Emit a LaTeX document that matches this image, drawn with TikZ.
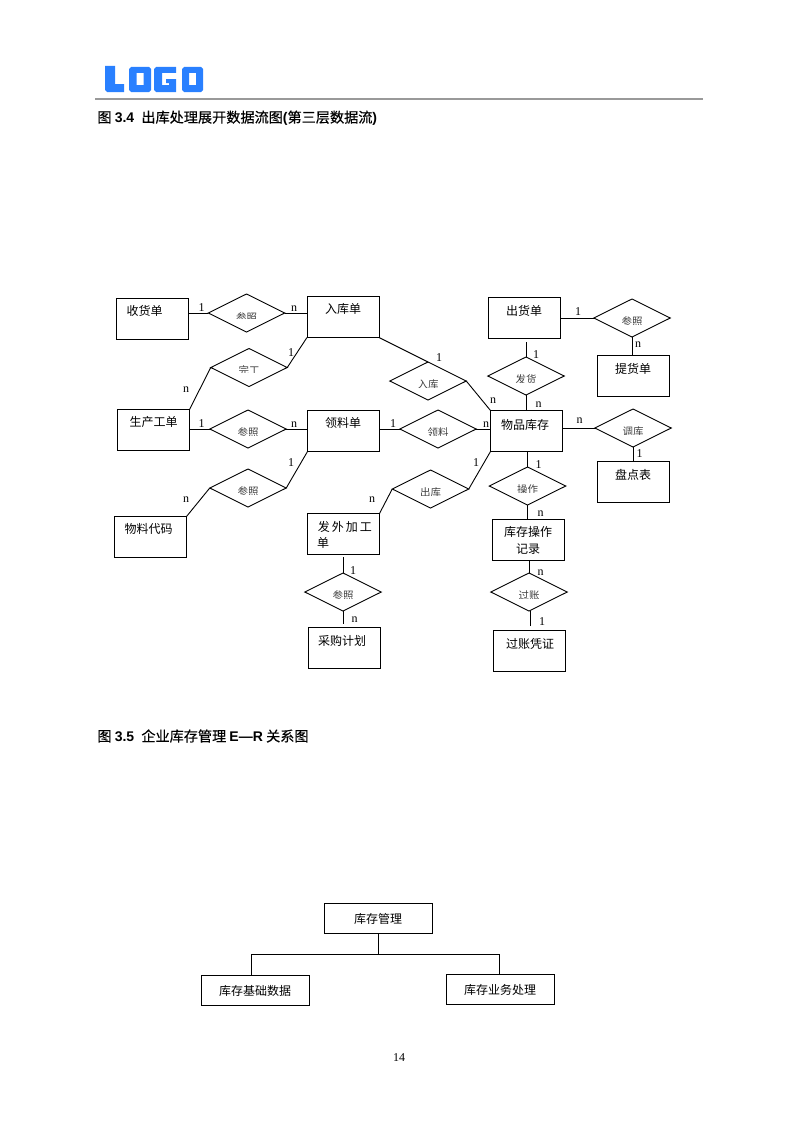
\documentclass[tikz,border=0pt]{standalone}
\usepackage{fontspec}
\usepackage{tikz}
\usetikzlibrary{shapes.geometric}
\setmainfont{Liberation Serif}
\newfontfamily\cjk{Noto Sans CJK SC}
\newfontfamily\cjkhead[FakeBold=0.4]{Noto Sans CJK SC}
\newfontfamily\headfont{Liberation Sans}
\definecolor{logoblue}{RGB}{41,128,255}
\newcommand\hd[1]{{\headfont\bfseries\fontsize{14}{16}\selectfont #1}}
\tikzset{
 entbox/.style={draw,minimum width=72pt,minimum height=41pt,inner sep=0pt,outer sep=0pt},
 topbox/.style={draw,minimum width=108.5pt,minimum height=30.5pt,inner sep=0pt,outer sep=0pt},
 rel/.style={draw,diamond,aspect=2,minimum width=76.5pt,minimum height=38pt,inner sep=0pt,outer sep=0pt},
 txt/.style={font=\cjk\fontsize{12}{17}\selectfont,inner sep=0pt,align=center},
 reltxt/.style={font=\cjk\fontsize{10.5}{11}\selectfont,inner sep=0pt,text=black!75},
 card/.style={font=\fontsize{12}{14}\selectfont,inner sep=0pt,yshift=-1.5pt},
 head/.style={font=\cjkhead\fontsize{14.15}{16}\selectfont,anchor=west,inner sep=0pt}
}
\begin{document}
\begin{tikzpicture}[x=1pt,y=-1pt,line width=0.9pt]
\useasboundingbox (0,0) rectangle (800,1132);
% logo
\fill[logoblue,even odd rule]
 (105,66)--(115,66)--(115,84)--(124,84)--(124,92)--(107,92)--(105,90)--cycle
 (131,67)--(149,67)--(151,69)--(151,90)--(149,92)--(131,92)--(129,90)--(129,69)--cycle
 (136.5,73)--(136.5,85)--(143.5,85)--(143.5,73)--cycle
 (156,67)--(176,67)--(176,73)--(162,73)--(162,85)--(169,85)--(169,83)--(166,83)--(166,79)--(176,79)--(176,92)--(156,92)--(154,90)--(154,69)--cycle
 (184,67)--(201,67)--(203,69)--(203,90)--(201,92)--(184,92)--(182,90)--(182,69)--cycle
 (189,73)--(189,85)--(196,85)--(196,73)--cycle;
\draw[black!40,line width=1.6pt] (95,99)--(703,99);
\node (head1) [head] at (97,118) {图 \hd{3.4}\hspace{4pt} 出库处理展开数据流图\hd{(}第三层数据流\hd{)}};
\node (head2) [head] at (97,736) {图 \hd{3.5}\hspace{4pt} 企业库存管理 \hd{E—R} 关系图};
% boxes
\foreach\n/\x/\y/\tx/\ty/\t in {
 shouhuo/152.5/318.5/144.5/311/收货单,
 ruku/343/317/343/309/入库单,
 gongdan/153.5/430/153.5/422/生产工单,
 lingliao/343.5/431/343/423/领料单,
 wuliao/150.5/537/148.5/529/物料代码,
 caigou/344/648/342/641/采购计划,
 chuhuo/524.5/318/524/311/出货单,
 tihuo/633.5/376/633/369/提货单,
 wupin/526.5/431/525/425/物品库存,
 pandian/633.5/482/633/475/盘点表,
 pingzheng/529.5/651/530/644/过账凭证}
 {\node (\n) [entbox] at (\x,\y) {};
  \node (\n txt) [txt] at (\tx,\ty) {\t};}
\node (waifa) [entbox] at (343.5,534) {};
\node (waifatxt) [txt,anchor=west] at (317.5,526.5) {发\,外\,加\,工};
\node (waifatxt2) [txt] at (323,543) {单};
\node (jilu) [entbox] at (528.5,539.5) {};
\node (jilutxt) [txt] at (528,540.5) {库存操作\\记录};
% diamonds, their texts are cut off at the bottom
\foreach\n/\x/\y/\dy/\cy/\t in {
 canzhao/246.5/313/5/5.5/参照,
 wangong/249/367.5/3/5/完工,
 canzhaob/248/429/3.5/6/参照,
 canzhaoc/248/488/3.5/6/参照,
 rukurel/428/381/3.5/6/入库,
 linglrel/438/429/3.5/6/领料,
 chukurel/430.5/489/3.5/6/出库,
 fahuo/526/376/3.5/6/发货,
 canzhaod/632/318/3.5/6/参照,
 diaoku/633/428/3.5/6/调库,
 caozuo/527.5/486/3.5/6/操作,
 canzhaoe/343/592/3.5/6/参照,
 guozhang/529/592/3.5/6/过账}
 {\node (\n) [rel] at (\x,\y) {};
  \begin{scope}
  \clip (\x-20,\y-10) rectangle (\x+20,\y+\cy);
  \node (\n txt) [reltxt] at (\x,\y+\dy) {\t};
  \end{scope}}
% free ends
\coordinate (fahuotop) at (526,342);
\coordinate (waifaend) at (343,557);
\coordinate (caigouend) at (343,624);
\coordinate (gzend) at (530,626);
% connectors
\draw (canzhao.west)--(canzhao.west -| shouhuo.east);
\draw (canzhao.east)--(canzhao.east -| ruku.west);
\draw (ruku.south west)--(wangong.east);
\draw (wangong.west)--(gongdan.north east);
\draw (canzhaob.west)--(canzhaob.west -| gongdan.east);
\draw (canzhaob.east)--(canzhaob.east -| lingliao.west);
\draw (lingliao.south west)--(canzhaoc.east);
\draw (canzhaoc.west)--(wuliao.north east);
\draw (linglrel.west)--(linglrel.west -| lingliao.east);
\draw (linglrel.east)--(linglrel.east -| wupin.west);
\draw (ruku.south east)--(rukurel.north);
\draw (rukurel.east)--(wupin.north west);
\draw (wupin.south west)--(chukurel.east);
\draw (chukurel.west)--(waifa.north east);
\draw (fahuotop)--(fahuo.north);
\draw (fahuo.south)--(fahuo.south |- wupin.north);
\draw (canzhaod.west)--(canzhaod.west -| chuhuo.east);
\draw (canzhaod.south)--(canzhaod.south |- tihuo.north);
\draw (diaoku.west)--(diaoku.west -| wupin.east);
\draw (diaoku.south)--(diaoku.south |- pandian.north);
\draw (caozuo.north)--(caozuo.north |- wupin.south);
\draw (caozuo.south)--(caozuo.south |- jilu.north);
\draw (guozhang.north)--(guozhang.north |- jilu.south);
\draw (gzend)--(gzend |- guozhang.south);
\draw (waifaend)--(canzhaoe.north);
\draw (canzhaoe.south)--(caigouend);
% cardinalities
\foreach\p/\s [count=\i] in {
 (201.5,306)/1,(294,307)/n,(291,351)/1,(186,388)/n,(201.5,422)/1,(294,423)/n,
 (291,461)/1,(186,498)/n,(372,498)/n,(393,422)/1,(486,423)/n,(439,356)/1,
 (493,399)/n,(476,461)/1,(536,353)/1,(538.5,403)/n,(578,310)/1,(638,343)/n,
 (579.5,419)/n,(639.5,452)/1,(538.5,463)/1,(540.5,512)/n,(540.5,571)/n,
 (542,620)/1,(353,569)/1,(354.5,618)/n}
 \node (card\i) [card] at \p {\s};
% lower chart
\node (guanli) [topbox] at (378.5,918.5) {};
\node (guanlitxt) [txt] at (378,918.5) {库存管理};
\node (jichu) [topbox] at (255.5,990.5) {};
\node (jichutxt) [txt] at (255,990.5) {库存基础数据};
\node (yewu) [topbox] at (500.5,989.5) {};
\node (yewutxt) [txt] at (500,989.5) {库存业务处理};
\coordinate (bus) at (378.5,954);
\coordinate (busl) at (251,954);
\coordinate (busr) at (499,954);
\draw (guanli.south)--(bus);
\draw (busl |- jichu.north)--(busl)--(busr)--(busr |- yewu.north);
\node (pageno) [card] at (399,1056.5) {14};
\end{tikzpicture}
\end{document}
